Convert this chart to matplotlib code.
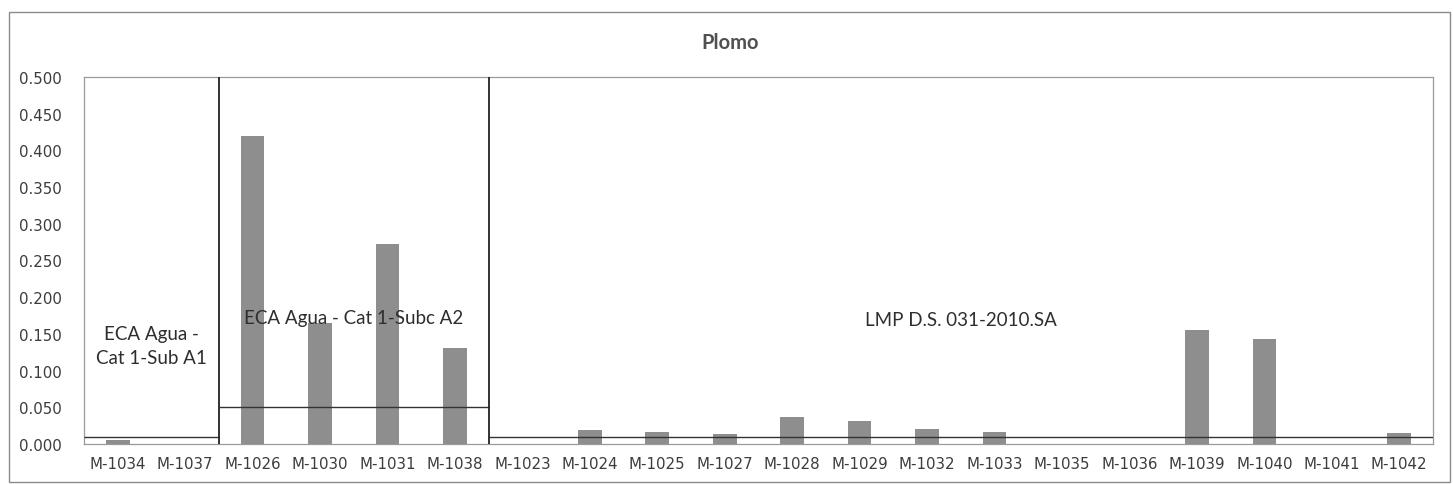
import matplotlib
matplotlib.use("Agg")
import matplotlib.pyplot as plt
from matplotlib.patches import Rectangle

plt.rcParams["font.family"] = ["DejaVu Sans"]

# sample points and measured lead (mg/L)
samples = ["M-1034", "M-1037", "M-1026", "M-1030", "M-1031", "M-1038",
           "M-1023", "M-1024", "M-1025", "M-1027", "M-1028", "M-1029",
           "M-1032", "M-1033", "M-1035", "M-1036", "M-1039", "M-1040",
           "M-1041", "M-1042"]
plomo = [0.006, 0.0, 0.420, 0.165, 0.272, 0.131,
         0.0, 0.019, 0.017, 0.014, 0.037, 0.031,
         0.020, 0.016, 0.0, 0.0, 0.155, 0.143,
         0.0, 0.015]

# standards: label, first sample index, last sample index, limit value
zone_labels = ["ECA Agua -\nCat 1-Sub A1", "ECA Agua - Cat 1-Subc A2", "LMP D.S. 031-2010.SA"]
zone_start = [0, 2, 6]
zone_end = [1, 5, 19]
zone_limit = [0.01, 0.05, 0.01]
zone_text_y = [0.134, 0.173, 0.169]

BAR = "#8e8e8e"
TXT = "#3c3c3c"

fig = plt.figure(figsize=(14.53, 4.85), dpi=100)
ax = fig.add_axes([0.0578, 0.0825, 0.9284, 0.7567])

x = range(len(samples))
ax.bar(x, plomo, 0.35, color=BAR, zorder=2)

for lab, s, e, lim, ty in zip(zone_labels, zone_start, zone_end, zone_limit, zone_text_y):
    ax.hlines(lim, s - 0.5, e + 0.5, color="#333333", lw=1.0, zorder=3)
    ax.text((s + e) / 2, ty, lab, ha="center", va="center", fontsize=13.5,
            family="Lato", color="#2e2e2e", zorder=4, linespacing=1.45)
for e in zone_end[:-1]:
    ax.axvline(e + 0.5, color="#222222", lw=1.3, zorder=3)

ax.set_xlim(-0.5, len(samples) - 0.5)
ax.set_ylim(0, 0.5)
ax.set_yticks([i * 0.05 for i in range(11)])
ax.set_yticklabels([f"{i * 0.05:.3f}" for i in range(11)], family="DejaVu Sans")
ax.set_xticks(list(x))
ax.set_xticklabels(samples, family="DejaVu Sans")
ax.tick_params(length=0, labelsize=10.8, labelcolor=TXT)
ax.tick_params(axis="y", pad=16)
ax.tick_params(axis="x", pad=9)
for sp in ax.spines.values():
    sp.set_color("#9a9a9a")
    sp.set_linewidth(0.9)

fig.text(0.5025, 0.911, "Plomo", ha="center", va="center", fontsize=14.5,
         family="Lato", weight="bold", color="#505050")

fig.patches.append(Rectangle((0.006, 0.005), 0.992, 0.968, transform=fig.transFigure,
                             fill=False, edgecolor="#8a8a8a", lw=1.0))

fig.savefig("out.png", dpi=100)
